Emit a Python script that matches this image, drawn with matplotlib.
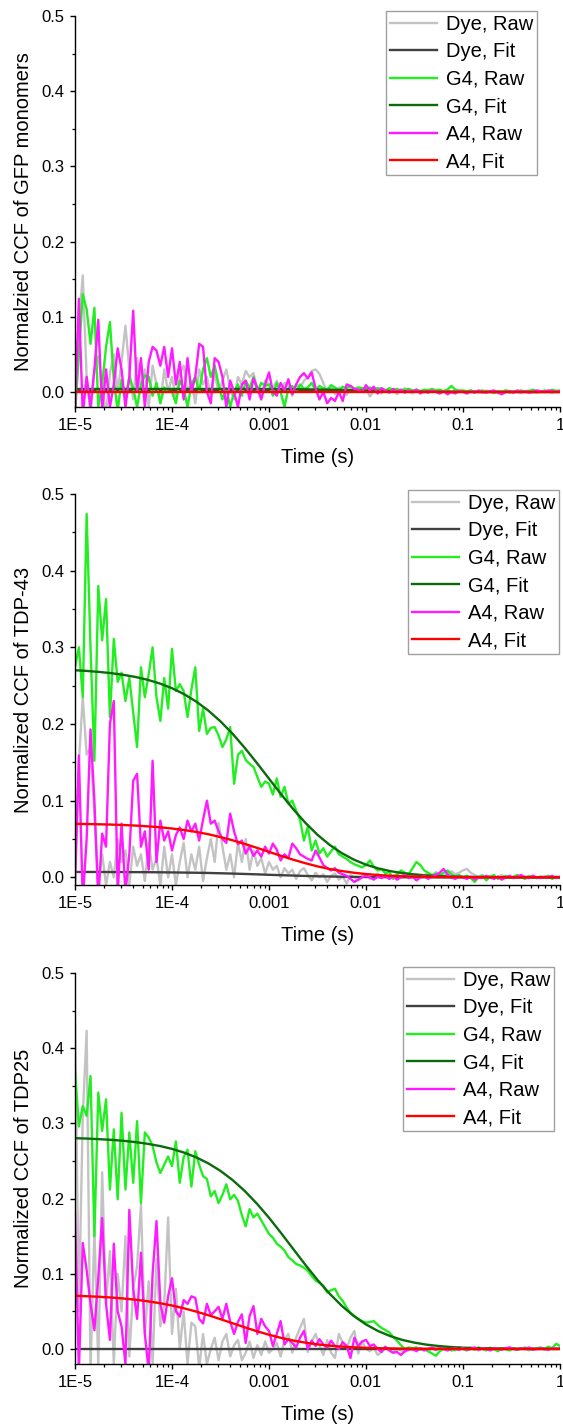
import numpy as np
import matplotlib
matplotlib.use("Agg")
import matplotlib.pyplot as plt
from matplotlib.ticker import FixedLocator, LogLocator, MultipleLocator, NullFormatter

plt.rcParams['font.family'] = ['Liberation Sans', 'DejaVu Sans']

### Data ######################################################################
# lag times of the correlator (25 channels per decade) and of the fit curves
t_raw = np.logspace(-5, 0, 126)
t_fit = np.logspace(-5, 0, 41)

x_ticks = [1e-5, 1e-4, 1e-3, 1e-2, 1e-1, 1]
x_ticklabels = ["1E-5", "1E-4", "0.001", "0.01", "0.1", "1"]
y_ticks = [0.0, 0.1, 0.2, 0.3, 0.4, 0.5]

series_labels = ["Dye, Raw", "Dye, Fit", "G4, Raw", "G4, Fit", "A4, Raw", "A4, Fit"]
ylabels = ["Normalzied CCF of GFP monomers", "Normalized CCF of TDP-43", "Normalized CCF of TDP25"]

# --- GFP monomers
gfp_dye_raw = [
    -0.03, 0.09, 0.155, 0.02, -0.03, 0.03, 0.047, 0.01, -0.03, 0.025, 0.05, 0.0, 0.04, 0.088, 0.03, -0.01, 0.045, 0.005, 0.03, -0.02, 0.035, 0.01, -0.015, 0.03, 0.0,
    0.02, -0.01, 0.025, 0.035, 0.0, 0.015, -0.015, 0.03, 0.01, 0.02, -0.005, 0.025, 0.0, 0.015, 0.03, 0.005, -0.01, 0.02, 0.01, 0.028, 0.02, 0.025, 0.005, -0.005, 0.015,
    0.01, 0.005, 0.015, 0.0, 0.012, 0.008, -0.005, 0.01, 0.005, 0.015, 0.02, 0.028, 0.03, 0.024, 0.012, 0.0, 0.008, -0.003, 0.006, 0.002, -0.004, 0.004, 0.0, 0.003, 0.001,
    0.004, -0.006, 0.002, 0.005, -0.002, 0.003, 0.0, 0.004, -0.003, 0.002, 0.005, 0.0, -0.002, 0.003, 0.001, -0.001, 0.003, 0.0, 0.002, -0.002, 0.001, 0.003, -0.001, 0.002, 0.0,
    0.001, -0.002, 0.002, 0.0, 0.001, -0.001, 0.002, 0.0, -0.002, 0.001, 0.0, 0.002, -0.001, 0.001, 0.0, -0.001, 0.001, 0.002, 0.0, -0.001, 0.001, 0.0, 0.001, -0.001, 0.002, 0.001]
gfp_g4_raw = [
    -0.03, 0.05, 0.13, 0.11, 0.064, 0.112, -0.02, 0.01, 0.06, 0.093, 0.016, -0.025, 0.016, -0.01, 0.02, 0.005, -0.02, 0.01, 0.022, 0.02, -0.005, 0.012, -0.015, 0.006, 0.0,
    0.0, -0.015, 0.015, 0.005, -0.02, 0.01, 0.02, 0.0, 0.03, 0.045, 0.02, 0.035, 0.01, -0.01, 0.005, -0.02, 0.0, 0.01, -0.005, 0.015, 0.005, 0.02, 0.0, 0.012, 0.008,
    0.01, -0.005, 0.012, 0.0, -0.02, 0.005, 0.008, 0.0, 0.01, 0.004, 0.006, 0.012, 0.002, 0.008, 0.005, 0.003, 0.009, 0.006, 0.002, 0.007, 0.005, 0.008, 0.004, 0.006, 0.005,
    0.004, 0.006, 0.003, 0.005, 0.004, 0.002, 0.005, 0.003, 0.004, 0.002, 0.003, 0.004, 0.002, 0.003, 0.001, 0.003, 0.002, 0.004, 0.002, 0.003, 0.001, 0.003, 0.008, 0.003, 0.002,
    0.002, 0.001, 0.002, 0.0, 0.001, 0.002, 0.0, 0.001, -0.001, 0.001, 0.0, 0.002, 0.001, 0.0, 0.001, 0.002, 0.0, 0.001, 0.003, 0.001, 0.0, 0.002, 0.001, 0.003, 0.001, 0.002]
gfp_a4_raw = [
    -0.03, 0.124, -0.03, 0.02, -0.02, 0.03, 0.096, -0.025, 0.03, -0.02, 0.01, 0.058, 0.03, -0.02, 0.02, 0.108, 0.0, 0.045, -0.02, 0.04, 0.06, 0.055, 0.035, 0.06, 0.02,
    0.058, 0.01, 0.04, -0.01, 0.045, 0.0, 0.02, 0.064, 0.06, 0.0, -0.015, 0.045, 0.04, 0.02, -0.02, 0.015, 0.0, -0.02, 0.01, 0.015, -0.01, 0.018, 0.005, -0.01, 0.01,
    0.026, 0.0, -0.005, 0.012, 0.002, 0.017, -0.003, 0.01, 0.02, 0.025, 0.018, 0.026, 0.005, -0.01, 0.0, -0.015, -0.008, -0.012, 0.0, -0.012, 0.01, 0.008, 0.004, 0.003, 0.0,
    0.009, 0.002, 0.007, -0.002, 0.005, 0.002, -0.001, 0.004, 0.0, 0.003, -0.001, 0.002, 0.0, 0.003, -0.002, 0.001, -0.001, 0.002, 0.0, -0.002, 0.001, -0.003, 0.0, -0.002, 0.001,
    0.0, -0.002, 0.001, -0.001, 0.002, 0.0, -0.001, 0.001, 0.002, -0.001, -0.003, 0.0, 0.001, -0.001, 0.002, 0.0, 0.001, -0.001, 0.0, 0.002, 0.001, 0.0, 0.002, 0.001, 0.0, 0.001]
gfp_dye_fit = [
    0.0015, 0.0015, 0.0015, 0.0015, 0.0015, 0.0015, 0.0015, 0.0015, 0.0015, 0.0015, 0.0015, 0.0015, 0.0015, 0.0015, 0.0015, 0.0015,
    0.0015, 0.0014, 0.0013, 0.0012, 0.0011, 0.0010, 0.0009, 0.0007, 0.0006, 0.0005, 0.0004, 0.0003, 0.0002, 0.0002, 0.0001, 0.0001, 0.0001,
    0.0, 0.0, 0.0, 0.0, 0.0, 0.0, 0.0, 0.0]
gfp_g4_fit = [
    0.0040, 0.0040, 0.0040, 0.0040, 0.0040, 0.0040, 0.0040, 0.0040, 0.0040, 0.0040, 0.0040, 0.0040, 0.0040, 0.0040, 0.0040, 0.0040,
    0.0039, 0.0038, 0.0037, 0.0035, 0.0033, 0.0030, 0.0027, 0.0023, 0.0019, 0.0015, 0.0012, 0.0009, 0.0006, 0.0004, 0.0003, 0.0002, 0.0001,
    0.0, 0.0, 0.0, 0.0, 0.0, 0.0, 0.0, 0.0]
gfp_a4_fit = [
    0.0, 0.0, 0.0, 0.0, 0.0, 0.0, 0.0, 0.0, 0.0, 0.0, 0.0, 0.0, 0.0, 0.0, 0.0, 0.0, 0.0, 0.0, 0.0, 0.0,
    0.0, 0.0, 0.0, 0.0, 0.0, 0.0, 0.0, 0.0, 0.0, 0.0, 0.0, 0.0, 0.0, 0.0, 0.0, 0.0, 0.0, 0.0, 0.0, 0.0, 0.0]

# --- TDP-43
tdp43_dye_raw = [
    -0.01, 0.15, 0.235, 0.16, 0.17, 0.08, -0.01, 0.03, -0.01, 0.02, 0.0, 0.05, 0.02, 0.035, -0.01, 0.04, 0.015, 0.03, -0.005, 0.045, 0.01, 0.025, -0.01, 0.04, 0.0,
    0.03, -0.01, 0.02, 0.045, 0.0, 0.03, 0.01, 0.04, -0.005, 0.025, 0.05, 0.02, 0.071, 0.04, 0.01, 0.03, 0.0, 0.045, 0.02, 0.05, 0.01, 0.035, 0.015, 0.025, 0.005,
    0.02, 0.01, 0.015, 0.0, 0.012, 0.005, 0.01, -0.002, 0.008, 0.012, 0.003, -0.004, 0.006, 0.0, 0.004, -0.006, 0.002, 0.005, -0.003, 0.001, -0.008, 0.003, 0.0, -0.004, 0.002,
    0.004, -0.002, 0.001, 0.005, 0.0, 0.003, -0.002, 0.002, 0.004, 0.001, 0.006, 0.002, 0.0, 0.004, 0.001, 0.003, 0.005, 0.001, 0.007, 0.004, 0.002, 0.005, 0.008, 0.004, 0.006,
    0.009, 0.011, 0.006, 0.003, 0.001, 0.003, 0.0, 0.002, -0.001, 0.001, 0.003, 0.0, 0.001, -0.001, 0.002, 0.0, 0.001, 0.002, 0.0, -0.001, 0.001, 0.0, 0.002, 0.0, 0.001, 0.0]
tdp43_g4_raw = [
    0.274, 0.300, 0.235, 0.474, 0.300, 0.152, 0.380, 0.309, 0.363, 0.209, 0.311, 0.255, 0.267, 0.230, 0.260, 0.215, 0.170, 0.274, 0.235, 0.265, 0.300, 0.235, 0.204, 0.260, 0.220,
    0.298, 0.243, 0.252, 0.243, 0.209, 0.245, 0.274, 0.191, 0.220, 0.187, 0.195, 0.196, 0.185, 0.170, 0.180, 0.196, 0.122, 0.160, 0.165, 0.153, 0.148, 0.144, 0.131, 0.118, 0.125,
    0.122, 0.108, 0.129, 0.105, 0.118, 0.096, 0.100, 0.087, 0.075, 0.048, 0.066, 0.035, 0.048, 0.031, 0.038, 0.027, 0.034, 0.040, 0.030, 0.027, 0.024, 0.020, 0.017, 0.015, 0.013,
    0.016, 0.022, 0.014, 0.009, 0.011, 0.005, 0.007, -0.002, 0.004, 0.009, 0.006, 0.004, 0.012, 0.020, 0.016, 0.009, 0.006, 0.003, 0.005, 0.002, 0.006, 0.009, 0.004, 0.001, 0.003,
    0.0, 0.002, -0.001, -0.006, 0.0, 0.002, -0.004, 0.001, 0.003, -0.002, 0.0, 0.002, -0.001, 0.001, 0.003, 0.0, -0.002, 0.001, 0.002, -0.001, 0.001, 0.0, 0.002, -0.002, 0.001, -0.001]
tdp43_a4_raw = [
    -0.009, 0.159, -0.03, 0.05, 0.193, 0.10, -0.03, 0.057, 0.04, 0.20, 0.23, -0.02, 0.07, -0.02, 0.03, 0.126, 0.135, 0.04, 0.06, 0.01, 0.152, 0.02, 0.074, 0.048, 0.06,
    0.035, 0.055, 0.065, 0.05, 0.074, 0.06, 0.07, 0.048, 0.075, 0.10, 0.07, 0.074, 0.06, 0.05, 0.045, 0.083, 0.06, 0.043, 0.048, 0.031, 0.04, 0.028, 0.035, 0.027, 0.04,
    0.031, 0.044, 0.036, 0.022, 0.03, 0.025, 0.044, 0.038, 0.03, 0.027, 0.024, 0.022, 0.035, 0.026, 0.016, 0.012, 0.009, 0.012, 0.006, 0.004, 0.002, -0.002, -0.006, -0.003, 0.0,
    0.002, 0.0, -0.003, 0.001, -0.001, 0.002, -0.002, 0.001, -0.003, 0.0, 0.003, -0.001, 0.001, -0.004, 0.0, 0.002, -0.002, 0.001, 0.003, 0.006, 0.011, 0.004, 0.0, -0.002, 0.001,
    0.0, -0.002, 0.001, -0.003, 0.0, -0.001, 0.002, 0.0, -0.002, 0.001, -0.003, 0.0, 0.002, -0.001, 0.001, 0.003, 0.0, -0.001, 0.002, 0.0, -0.001, 0.001, 0.0, 0.002, -0.001, 0.001]
tdp43_dye_fit = [
    0.0070, 0.0070, 0.0070, 0.0069, 0.0069, 0.0068, 0.0067, 0.0066, 0.0064, 0.0062, 0.0060, 0.0057, 0.0053, 0.0049, 0.0044, 0.0039, 0.0033,
    0.0028, 0.0023, 0.0018, 0.0014, 0.0011, 0.0008, 0.0006, 0.0004, 0.0003, 0.0002, 0.0001, 0.0001, 0.0001,
    0.0, 0.0, 0.0, 0.0, 0.0, 0.0, 0.0, 0.0, 0.0, 0.0, 0.0]
tdp43_g4_fit = [
    0.2701, 0.2692, 0.2679, 0.2663, 0.2641, 0.2613, 0.2576, 0.2528, 0.2467, 0.2389, 0.2292, 0.2175, 0.2034, 0.1872, 0.1689, 0.1492, 0.1287,
    0.1083, 0.0889, 0.0711, 0.0555, 0.0423, 0.0316, 0.0231, 0.0165, 0.0117, 0.0081, 0.0055, 0.0038, 0.0025, 0.0017, 0.0011, 0.0007,
    0.0005, 0.0003, 0.0002, 0.0001, 0.0001, 0.0001, 0.0, 0.0]
tdp43_a4_fit = [
    0.0698, 0.0695, 0.0692, 0.0688, 0.0682, 0.0675, 0.0665, 0.0653, 0.0637, 0.0617, 0.0592, 0.0562, 0.0525, 0.0483, 0.0436, 0.0385, 0.0332,
    0.0280, 0.0230, 0.0184, 0.0143, 0.0109, 0.0082, 0.0060, 0.0043, 0.0030, 0.0021, 0.0014, 0.0010, 0.0007, 0.0004, 0.0003, 0.0002,
    0.0001, 0.0001, 0.0001, 0.0, 0.0, 0.0, 0.0, 0.0]

# --- TDP25
tdp25_dye_raw = [
    0.44, 0.05, 0.31, 0.423, -0.03, 0.16, -0.02, 0.235, 0.06, 0.13, -0.02, 0.10, 0.05, 0.15, -0.01, 0.08, 0.11, 0.192, 0.02, 0.09, -0.02, 0.12, 0.03, 0.06, 0.175,
    0.02, 0.08, 0.0, 0.05, -0.02, 0.035, 0.03, -0.025, 0.02, -0.02, 0.0, 0.015, -0.015, 0.01, 0.02, -0.01, 0.005, 0.012, -0.015, -0.005, 0.01, -0.012, 0.005, -0.008, 0.01,
    -0.005, 0.0, 0.008, -0.01, 0.012, 0.02, -0.005, 0.015, 0.028, 0.04, -0.004, 0.01, 0.02, 0.005, -0.008, 0.012, -0.005, -0.012, 0.02, 0.008, 0.0, 0.015, 0.024, -0.006, 0.01,
    0.0, -0.003, 0.002, -0.008, -0.004, 0.001, -0.002, -0.005, 0.0, -0.002, -0.004, 0.001, -0.002, 0.002, -0.001, 0.0, -0.003, 0.001, -0.002, 0.002, 0.0, -0.001, 0.001, -0.002, 0.0,
    0.001, -0.001, 0.002, 0.0, -0.002, 0.001, 0.0, 0.002, -0.001, 0.0, 0.001, -0.001, 0.002, 0.0, -0.001, 0.001, 0.0, -0.002, 0.001, 0.0, 0.001, -0.001, 0.0, 0.001, 0.0, 0.001]
tdp25_g4_raw = [
    0.370, 0.296, 0.323, 0.310, 0.363, 0.150, 0.341, 0.290, 0.332, 0.212, 0.292, 0.199, 0.314, 0.212, 0.288, 0.221, 0.303, 0.194, 0.288, 0.281, 0.270, 0.248, 0.234, 0.245, 0.256,
    0.243, 0.276, 0.221, 0.255, 0.265, 0.216, 0.263, 0.245, 0.230, 0.226, 0.203, 0.210, 0.194, 0.205, 0.219, 0.199, 0.205, 0.197, 0.178, 0.163, 0.186, 0.175, 0.180, 0.171, 0.162,
    0.153, 0.148, 0.140, 0.136, 0.131, 0.122, 0.118, 0.113, 0.111, 0.108, 0.104, 0.097, 0.091, 0.088, 0.084, 0.075, 0.078, 0.080, 0.070, 0.064, 0.055, 0.048, 0.044, 0.040, 0.037,
    0.035, 0.036, 0.037, 0.032, 0.028, 0.025, 0.022, 0.016, 0.011, 0.005, 0.0, 0.002, 0.001, 0.002, -0.001, 0.0, -0.003, -0.006, -0.009, -0.003, 0.0, 0.001, -0.002, -0.001, 0.002,
    0.0, -0.002, 0.001, -0.001, 0.002, 0.0, -0.002, 0.001, 0.0, -0.003, 0.001, 0.0, -0.002, 0.001, -0.001, 0.0, 0.002, 0.0, -0.001, 0.001, 0.002, 0.0, 0.003, 0.001, 0.007, 0.004]
tdp25_a4_raw = [
    0.183, -0.03, 0.141, 0.105, 0.06, 0.025, 0.095, 0.174, 0.06, 0.012, 0.14, 0.05, 0.03, -0.02, 0.185, 0.08, 0.04, 0.128, 0.02, -0.03, 0.10, 0.17, 0.06, 0.035, 0.07,
    0.094, 0.05, 0.043, 0.065, 0.06, 0.07, 0.068, 0.04, 0.034, 0.06, 0.045, 0.05, 0.056, 0.04, 0.06, 0.036, 0.02, 0.036, 0.046, 0.008, 0.044, 0.057, 0.02, 0.04, 0.03,
    0.024, 0.004, 0.02, 0.037, 0.006, 0.013, 0.008, 0.002, 0.015, 0.024, 0.0, 0.011, 0.004, 0.013, 0.006, 0.002, 0.011, 0.004, 0.0, 0.009, 0.004, -0.012, 0.015, 0.004, 0.01,
    0.012, 0.004, 0.006, 0.0, -0.004, 0.003, -0.002, -0.005, -0.004, -0.008, -0.003, -0.001, 0.0, -0.003, 0.001, -0.002, 0.0, 0.002, -0.001, 0.001, 0.0, -0.002, 0.0, 0.001, -0.001,
    0.001, -0.001, 0.0, 0.002, -0.001, 0.001, 0.0, -0.002, 0.001, 0.0, -0.001, 0.001, 0.002, 0.0, -0.001, 0.001, 0.0, 0.002, -0.001, 0.0, 0.001, 0.0, -0.001, 0.001, 0.0, 0.001]
tdp25_dye_fit = [
    0.0, 0.0, 0.0, 0.0, 0.0, 0.0, 0.0, 0.0, 0.0, 0.0, 0.0, 0.0, 0.0, 0.0, 0.0, 0.0, 0.0, 0.0, 0.0, 0.0,
    0.0, 0.0, 0.0, 0.0, 0.0, 0.0, 0.0, 0.0, 0.0, 0.0, 0.0, 0.0, 0.0, 0.0, 0.0, 0.0, 0.0, 0.0, 0.0, 0.0, 0.0]
tdp25_g4_fit = [
    0.2803, 0.2798, 0.2790, 0.2781, 0.2768, 0.2751, 0.2728, 0.2699, 0.2661, 0.2611, 0.2548, 0.2468, 0.2368, 0.2246, 0.2101, 0.1933, 0.1745,
    0.1541, 0.1329, 0.1119, 0.0918, 0.0735, 0.0574, 0.0437, 0.0326, 0.0238, 0.0171, 0.0120, 0.0084, 0.0057, 0.0039, 0.0026, 0.0017,
    0.0012, 0.0008, 0.0005, 0.0003, 0.0002, 0.0001, 0.0001, 0.0001]
tdp25_a4_fit = [
    0.0707, 0.0701, 0.0694, 0.0684, 0.0671, 0.0655, 0.0634, 0.0609, 0.0578, 0.0540, 0.0497, 0.0449, 0.0396, 0.0342, 0.0288, 0.0236, 0.0189,
    0.0147, 0.0112, 0.0084, 0.0061, 0.0044, 0.0031, 0.0022, 0.0015, 0.0010, 0.0007, 0.0004, 0.0003, 0.0002, 0.0001, 0.0001,
    0.0, 0.0, 0.0, 0.0, 0.0, 0.0, 0.0, 0.0, 0.0]

panels = [
    (gfp_dye_raw, gfp_dye_fit, gfp_g4_raw, gfp_g4_fit, gfp_a4_raw, gfp_a4_fit),
    (tdp43_dye_raw, tdp43_dye_fit, tdp43_g4_raw, tdp43_g4_fit, tdp43_a4_raw, tdp43_a4_fit),
    (tdp25_dye_raw, tdp25_dye_fit, tdp25_g4_raw, tdp25_g4_fit, tdp25_a4_raw, tdp25_a4_fit),
]
y_bottoms = [-0.02, -0.01, -0.02]

### Style #####################################################################
colors = ["#c3c3c3", "#404040", "#22ee22", "#0b6b0b", "#ff1aff", "#ff0000"]
W, H = 563, 1427
ax_left, ax_width = 75 / W, 485 / W
ax_height = 391 / H
ax_bottoms_px = [407, 885, 1364]            # pixel row of the x axis line
legend_anchor_px = [(537, 11), (559, 490), (554, 967)]

fig = plt.figure(figsize=(W / 100, H / 100), dpi=100)

for i, series in enumerate(panels):
    ax = fig.add_axes([ax_left, 1 - ax_bottoms_px[i] / H, ax_width, ax_height])
    handles = []
    for j, y in enumerate(series):
        t = t_raw if j % 2 == 0 else t_fit
        assert len(y) == len(t), (i, j, len(y))
        h, = ax.plot(t, y, color=colors[j], lw=1.7, label=series_labels[j])
        handles.append(h)

    ax.set_xscale('log')
    ax.set_xlim(1e-5, 1)
    ax.set_ylim(y_bottoms[i], 0.5)
    ax.xaxis.set_major_locator(FixedLocator(x_ticks))
    ax.set_xticklabels(x_ticklabels)
    ax.xaxis.set_minor_locator(LogLocator(base=10, subs=np.arange(2, 10), numticks=20))
    ax.xaxis.set_minor_formatter(NullFormatter())
    ax.set_yticks(y_ticks)
    ax.set_yticklabels(["%.1f" % v for v in y_ticks])
    ax.yaxis.set_minor_locator(MultipleLocator(0.05))

    for s in ['top', 'right']:
        ax.spines[s].set_visible(False)
    for s in ['left', 'bottom']:
        ax.spines[s].set_linewidth(1.0)
    ax.tick_params(which='major', direction='out', length=3.8, width=1.0, labelsize=12, pad=4)
    ax.tick_params(which='minor', direction='out', length=2.2, width=0.9)

    ax.set_xlabel("Time (s)", fontsize=14.5)
    ax.xaxis.set_label_coords(0.5, -41 / 391)
    ax.set_ylabel(ylabels[i], fontsize=14.5)
    ax.yaxis.set_label_coords(-42 / 485, 0.5)

    lx, ly = legend_anchor_px[i]
    leg = fig.legend(handles=handles, loc='upper right', bbox_to_anchor=(lx / W, 1 - ly / H),
                     fontsize=14.5, frameon=True, fancybox=False, framealpha=1,
                     edgecolor='#a0a0a0', borderpad=0.2, labelspacing=0.42,
                     handlelength=2.3, handletextpad=0.45, borderaxespad=0)
    leg.get_frame().set_linewidth(1.0)

fig.savefig("out.png", dpi=100)
